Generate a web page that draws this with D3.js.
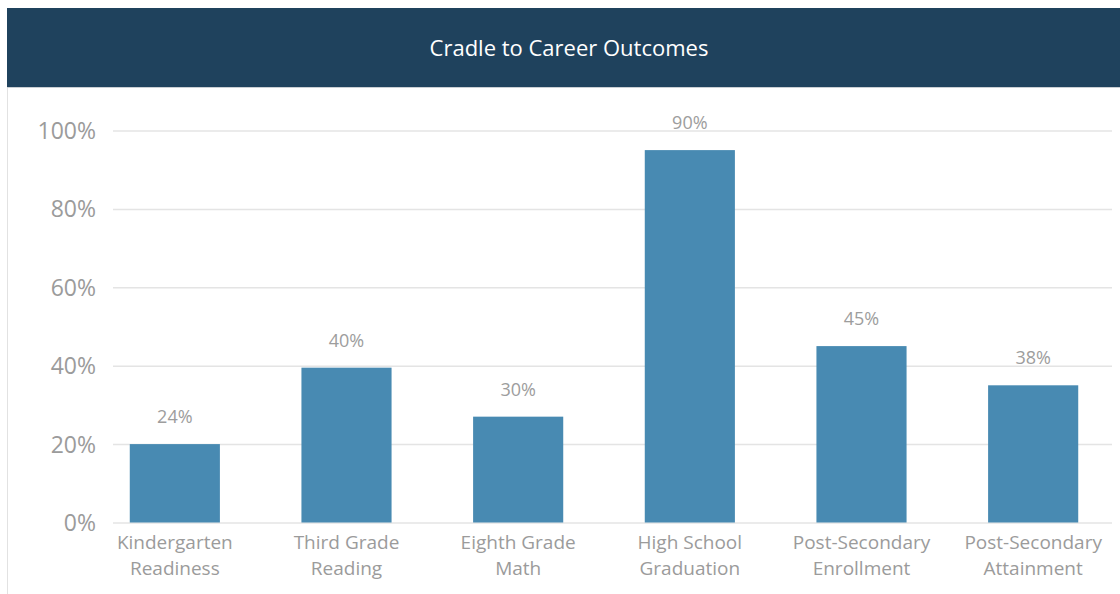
<!DOCTYPE html>
<html>
<head>
<meta charset="utf-8">
<script src="https://cdn.jsdelivr.net/npm/d3@7"></script>
<style>
  html, body { margin: 0; padding: 0; background: #fff; }
  svg { display: block; font-family: "Open Sans", sans-serif; }
</style>
</head>
<body>
<svg id="chart" width="1120" height="594"></svg>
<script>
const title = "Cradle to Career Outcomes";
const categories = [
  ["Kindergarten", "Readiness"],
  ["Third Grade", "Reading"],
  ["Eighth Grade", "Math"],
  ["High School", "Graduation"],
  ["Post-Secondary", "Enrollment"],
  ["Post-Secondary", "Attainment"]
];
const barValues = [20, 39.5, 27, 95, 45, 35];
const valueLabels = ["24%", "40%", "30%", "90%", "45%", "38%"];
const yTicks = [0, 20, 40, 60, 80, 100];

const svg = d3.select("#chart");

// header panel
svg.append("rect").attr("x", 7).attr("y", 8).attr("width", 1113).attr("height", 79).attr("fill", "#1f425d");
svg.append("line").attr("x1", 7).attr("x2", 1120).attr("y1", 87.5).attr("y2", 87.5).attr("stroke", "#c9ced3").attr("stroke-width", 1);
svg.append("line").attr("x1", 7.5).attr("x2", 7.5).attr("y1", 88).attr("y2", 594).attr("stroke", "#e2e2e2").attr("stroke-width", 1);
svg.append("text").attr("x", 569).attr("y", 56).attr("text-anchor", "middle")
  .attr("fill", "#ffffff").attr("font-size", 22).text(title);

const y = d3.scaleLinear().domain([0, 100]).range([522.5, 130.5]);
const x = d3.scaleBand().domain(d3.range(categories.length)).range([89, 1119])
  .paddingInner(0.475).paddingOuter(0.2375);

// y axis with gridlines
const yAxis = d3.axisLeft(y).tickValues(yTicks).tickFormat(d => d + "%")
  .tickSize(-(1112 - 113)).tickPadding(17);
const gy = svg.append("g").attr("transform", "translate(113,0)").call(yAxis);
gy.select(".domain").remove();
gy.selectAll(".tick line").attr("stroke", "#e4e4e4").attr("stroke-width", 1.5);
gy.selectAll(".tick text").attr("fill", "#9b9b9b").attr("font-size", 23)
  .attr("font-family", "'Open Sans', sans-serif").attr("dy", "0.35em");

// bars
svg.append("g").selectAll("rect").data(barValues).join("rect")
  .attr("x", (d, i) => x(i)).attr("width", x.bandwidth())
  .attr("y", d => y(d)).attr("height", d => y(0) - y(d))
  .attr("fill", "#488ab2");

// value labels
svg.append("g").selectAll("text").data(barValues).join("text")
  .attr("x", (d, i) => x(i) + x.bandwidth() / 2).attr("y", d => y(d) - 21)
  .attr("text-anchor", "middle").attr("fill", "#9d9d9d").attr("font-size", 18)
  .text((d, i) => valueLabels[i]);

// category labels
const cat = svg.append("g").selectAll("text").data(categories).join("text")
  .attr("x", (d, i) => x(i) + x.bandwidth() / 2).attr("y", y(0) + 26.5)
  .attr("text-anchor", "middle").attr("fill", "#9b9b9b").attr("font-size", 19);
cat.selectAll("tspan").data(d => d).join("tspan")
  .attr("x", function() { return d3.select(this.parentNode).attr("x"); })
  .attr("dy", (d, j) => j === 0 ? 0 : 25.5).text(d => d);
</script>
</body>
</html>
